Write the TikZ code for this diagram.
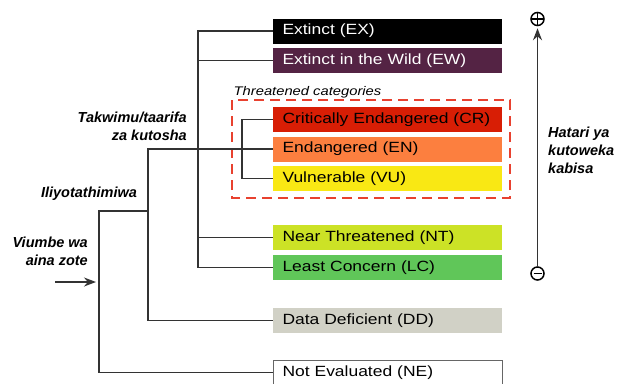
\documentclass[tikz,border=0pt]{standalone}
\usepackage{fontspec}
\setmainfont{Liberation Sans}
\newfontfamily\boxfont[FakeStretch=1.18]{Liberation Sans}
\usetikzlibrary{arrows.meta}
\definecolor{cEX}{HTML}{000000}
\definecolor{cEW}{HTML}{542344}
\definecolor{cCR}{HTML}{D81E05}
\definecolor{cEN}{HTML}{FC7F3F}
\definecolor{cVU}{HTML}{F9E814}
\definecolor{cNT}{HTML}{CCE226}
\definecolor{cLC}{HTML}{60C659}
\definecolor{cDD}{HTML}{D1D1C6}
\definecolor{lineg}{HTML}{333333}
\definecolor{dashred}{HTML}{E8412F}
\tikzset{
  cat/.style={minimum width=229pt, minimum height=25pt, text width=210pt,
    inner xsep=9.5pt, inner ysep=0pt, align=left, anchor=center,
    font=\boxfont\fontsize{14.8}{17}\selectfont, text height=10.5pt, text depth=3pt},
  conn/.style={draw=lineg, line width=1.5pt},
  lab/.style={font=\bfseries\itshape\fontsize{14.5}{18}\selectfont, inner sep=0pt},
  dashbox/.style={draw=dashred, line width=1.4pt, dash pattern=on 10pt off 6pt},
  signc/.style={circle, draw=black, line width=1.5pt, minimum width=13pt, minimum height=12pt, inner sep=0pt},
}
\begin{document}
\begin{tikzpicture}[x=1pt,y=-1pt]
\useasboundingbox (0,0) rectangle (617,383);
% category boxes
\node[cat, fill=cEX, text=white] (ex) at (387.5,31) {Extinct (EX)};
\node[cat, fill=cEW, text=white] (ew) at (387.5,60.5) {Extinct in the Wild (EW)};
\node[cat, fill=cCR] (cr) at (387.5,119.5) {Critically Endangered (CR)};
\node[cat, fill=cEN] (en) at (387.5,149) {Endangered (EN)};
\node[cat, fill=cVU] (vu) at (387.5,178.5) {Vulnerable (VU)};
\node[cat, fill=cNT] (nt) at (387.5,237.5) {Near Threatened (NT)};
\node[cat, fill=cLC] (lc) at (387.5,267.5) {Least Concern (LC)};
\node[cat, fill=cDD] (dd) at (387.5,320.5) {Data Deficient (DD)};
\node[cat, fill=white, draw=gray!80!black, line width=1pt] (ne) at (387.5,372.5) {Not Evaluated (NE)};
% threatened group
\draw[dashbox] (232,100) rectangle (510,198);
\node[anchor=west, inner sep=0pt, font=\boxfont\itshape\fontsize{12.5}{15}\selectfont] (thr) at (233.5,92) {Threatened categories};
% branch points
\coordinate (b1) at (99,211);
\coordinate (b2) at (148,211);
\coordinate (b3) at (148,149);
\coordinate (vx) at (198,149);
\coordinate (bx) at (242,149);
\coordinate (in) at (55,282);
\coordinate (inend) at (96,282);
% connectors
\draw[conn] (ne.west) -| (b1) -- (b2);
\draw[conn] (dd.west) -| (b3) -- (en.west);
\draw[conn] (ex.west) -| (vx) |- (lc.west);
\draw[conn] (ew.west) -- (ew.west -| vx);
\draw[conn] (nt.west) -- (nt.west -| vx);
\draw[conn] (cr.west) -| (bx) |- (vu.west);
\draw[conn, line width=1.3pt, -{Stealth[length=12pt,width=9pt]}] (in) -- (inend);
% labels
\node[lab, align=right, anchor=east] (tak) at (187,126) {Takwimu/taarifa\\za kutosha};
\node[lab] (ili) at (89,193.5) {Iliyotathimiwa};
\node[lab, align=right, anchor=east] (viu) at (88,251) {Viumbe wa\\aina zote};
\node[lab, align=left, anchor=west] (hat) at (548,150) {Hatari ya\\kutoweka\\kabisa};
% risk axis
\node[signc, path picture={\draw[line width=1.5pt] (path picture bounding box.west) -- (path picture bounding box.east) (path picture bounding box.north) -- (path picture bounding box.south);}] (plus) at (537.5,19) {};
\node[signc, path picture={\draw[line width=1.8pt] ([xshift=2.5pt]path picture bounding box.west) -- ([xshift=-2.5pt]path picture bounding box.east);}] (minus) at (537.5,273.5) {};
\draw[conn, line width=1.4pt, -{Stealth[length=12pt,width=9pt]}] (minus.north) -- ([yshift=-2pt]plus.south);
\end{tikzpicture}
\end{document}
